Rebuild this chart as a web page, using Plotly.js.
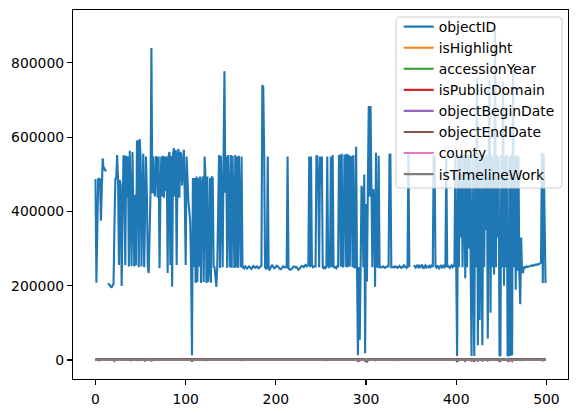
<!DOCTYPE html>
<html><head><meta charset="utf-8">
<script src="https://cdn.plot.ly/plotly-3.0.1.min.js"></script>
<style>html,body{margin:0;padding:0;background:#fff}#chart{width:578px;height:413px}</style>
</head><body><div id="chart"></div>
<script>
const seriesNames = ['objectID','isHighlight','accessionYear','isPublicDomain','objectBeginDate','objectEndDate','county','isTimelineWork'];
const seriesColors = ['#1f77b4','#ff7f0e','#2ca02c','#d62728','#9467bd','#8c564b','#e377c2','#7f7f7f'];
const xTickValues = [0,100,200,300,400,500];
const yTickValues = [0,200000,400000,600000,800000];
const yTickLabels = ['0','200000','400000','600000','800000'];

const objectID = [
487000,208000,350000,487000,488000,486000,375000,510000,543000,512000,
515000,510000,508000,null,207000,203000,199000,197000,196000,199000,
205000,360000,487000,488000,552000,486000,256000,485000,470000,199000,
440000,550000,548000,255000,550000,437000,548000,252000,563000,440000,
253000,560000,440000,252000,445000,255000,590000,588000,250000,595000,
548000,252000,440000,555000,250000,445000,548000,440000,252000,234000,
340000,450000,840000,449000,548000,453000,440000,548000,545000,437000,
548000,247000,450000,548000,440000,550000,437000,548000,455000,548000,
234000,548000,560000,256000,550000,197000,555000,570000,440000,565000,
256000,548000,568000,437000,560000,555000,470000,548000,566000,440000,
256000,548000,467000,430000,400000,373000,251000,13000,490000,250000,
490000,207000,494000,210000,490000,251000,494000,207000,470000,494000,
210000,548000,490000,207000,494000,210000,250000,490000,208000,494000,
490000,251000,250000,207000,197000,251000,440000,552000,248000,550000,
440000,250000,552000,777000,450000,548000,248000,552000,440000,250000,
552000,248000,550000,440000,248000,552000,250000,548000,248000,550000,
440000,250000,548000,248000,250000,247000,252000,250000,246000,249000,
252000,250000,248000,245000,250000,253000,251000,248000,250000,252000,
249000,247000,250000,252000,253000,740000,735000,557000,250000,246000,
248000,548000,245000,243000,246000,252000,256000,250000,247000,248000,
251000,254000,252000,250000,246000,244000,245000,249000,252000,250000,
249000,251000,250000,548000,248000,244000,243000,245000,246000,250000,
252000,251000,249000,250000,247000,243000,245000,250000,252000,253000,
251000,250000,254000,256000,252000,253000,255000,548000,250000,548000,
256000,250000,252000,253000,250000,548000,548000,476000,250000,548000,
472000,548000,250000,247000,252000,248000,250000,548000,255000,250000,
253000,548000,250000,552000,251000,249000,250000,247000,252000,250000,
552000,548000,252000,555000,250000,253000,552000,550000,250000,555000,
250000,552000,252000,545000,548000,250000,552000,248000,250000,574000,
250000,13000,250000,54000,250000,469000,450000,250000,499000,18000,
420000,211000,460000,684000,440000,684000,460000,250000,460000,420000,
197000,558000,250000,252000,550000,250000,251000,249000,250000,252000,
250000,248000,250000,251000,253000,250000,552000,555000,250000,251000,
250000,249000,252000,250000,251000,248000,250000,253000,250000,248000,
251000,250000,255000,252000,250000,248000,250000,555000,250000,null,
null,null,null,255000,251000,249000,252000,256000,250000,253000,
248000,251000,257000,250000,246000,252000,255000,249000,251000,250000,
253000,248000,252000,256000,250000,550000,548000,252000,249000,255000,
250000,247000,252000,254000,249000,251000,256000,250000,253000,552000,
250000,253000,251000,248000,252000,255000,250000,253000,251000,550000,
250000,11000,552000,250000,548000,330000,552000,250000,430000,552000,
220000,548000,250000,552000,300000,548000,250000,11000,552000,150000,
11000,548000,250000,760000,40000,552000,108000,548000,250000,40000,
552000,250000,548000,350000,552000,58000,548000,755000,127000,552000,
250000,548000,230000,897000,250000,552000,330000,548000,13000,11000,
552000,250000,750000,200000,548000,250000,552000,11000,13000,548000,
11000,552000,13000,782000,250000,548000,189000,552000,240000,548000,
230000,150000,330000,240000,234000,251000,248000,250000,252000,250000,
251000,253000,252000,254000,253000,255000,254000,256000,257000,256000,
258000,257000,259000,260000,262000,558000,207000,555000,330000,207000
];

const isHighlightFlags = `
00000000000000000000000000000001000000000000000000
00000000000000000000000000000000000000000000000000
00000000000000000000100000000000000000000000000000
00000000000000000000000000000000000000000000000000
00000000000000000000000000000000000000000000000000
00000000000000000000000000000000000000000000000000
00000000000000000000000000000000000000000000010000
00000000000000000000000000000000000000000000000000
00000000000000000000000000000000000000000000000000
00000000000000000000000000000000000000000000000000`;

const isPublicDomainFlags = `
11011101110111111011011101101110111101111011011110
11101111011011101111101101111011101101110111011011
11111111111111111111111111111111111111111111111111
11111111111111111111111111111111111111111111111111
11111111111111111111111111111111111111111111111111
11111111111111111111111101111111111111111111111101
11111111111111111111111111111111111111111111111111
11111111111111111111111111111111111111111111111111
11011110111011010111101101110111011011101101111111
11111111111111111111111111111111111111111111111111`;

const isTimelineWorkFlags = `
10010001001000100001000100100010001000010001001000
01000100010000100010001000010001000100001000100010
00000000000000000000000000000000000000000000000000
00000000000000000000000000000000000000000000000000
00000000000000000000000000000000000000000000000000
00000000000000000000000000000000000000000000000000
00001000000000000000000000000000000000000100000000
00000000000000000000000000000000000000000000000000
01000100100010001000010000100010000010001000100001
00000000000000000000000000000000000000000000000000`;

const accessionYearList = `
1979 1963 1917 1941 1882 1929 1926 1906 1913 1970 1956 1936 1949 1917 1917 1917 1917 1917 1917 1917
1984 1896 1974 1981 1929 1910 1928 1929 1926 1917 1917 1946 1994 1914 1968 1926 1921 1997 1929 1905
1989 1929 1917 1971 1927 1929 1918 1949 1937 1929 1936 1967 1917 1917 1929 1913 1926 1945 1917 1917
1929 1997 1906 2002 1929 1917 1954 1929 1917 1955 1929 1917 1917 1901 1929 1929 1917 1961 1929 1916
1917 1929 1926 1917 1931 1917 1929 1931 1917 1955 1911 1929 1929 1947 1929 1917 1924 1929 1929 1917
1924 1929 1932 1917 1923 1923 1917 1990 1936 1917 1965 1917 1936 1917 1964 1917 1917 1917 1933 1936
1917 1917 1917 1936 1917 1917 1934 1917 1917 1936 1917 1917 1917 1917 1917 1917 1933 1929 1917 1917
1929 1917 1929 1967 1929 1929 1917 1917 1929 1917 1917 1929 1917 1917 1929 1917 1929 1917 1929 1917
1929 1917 1917 1917 1917 1917 1917 1917 1917 1917 1917 1917 1917 1917 1917 1917 1917 1917 1917 1917
1917 1917 1917 1917 1917 1990 1970 1929 1917 1917 1917 1929 1917 1917 1917 1917 1917 1917 1917 1917
1917 1917 1917 1917 1917 1917 1917 1917 1917 1917 1917 1917 1917 1929 1917 1917 1917 1917 1917 1917
1917 1917 1917 1917 1917 1917 1917 1917 1917 1917 1917 1917 1917 1917 1917 1917 1917 1929 1917 1929
1917 1917 1917 1917 1917 1929 1929 1936 1917 1929 1936 1929 1917 1917 1917 1917 1917 1929 1917 1917
1917 1929 1917 1929 1917 1917 1917 1917 1917 1917 1929 1929 1917 1929 1917 1917 1929 1929 1917 1929
1917 1929 1917 1929 1929 1917 1929 1917 1917 1929 1917 1986 1917 1975 1917 1936 1936 1917 1936 1991
1936 1906 1936 1959 1936 1959 1936 1917 1936 1936 1913 1929 1917 1917 1929 1917 1917 1917 1917 1917
1917 1917 1917 1917 1917 1917 1929 1929 1917 1917 1917 1917 1917 1917 1917 1917 1917 1917 1917 1917
1917 1917 1917 1917 1917 1917 1917 1929 1917 1917 1917 1917 1917 1917 1917 1917 1917 1917 1917 1917
1917 1917 1917 1917 1917 1917 1917 1917 1917 1917 1917 1917 1917 1917 1917 1929 1929 1917 1917 1917
1917 1917 1917 1917 1917 1917 1917 1917 1917 1929 1917 1917 1917 1917 1917 1917 1917 1917 1917 1929
1917 1979 1929 1917 1929 1942 1929 1917 1936 1929 1912 1929 1917 1929 1933 1929 1917 1983 1929 1927
1987 1929 1917 1963 1984 1929 1977 1929 1917 1982 1929 1917 1929 1936 1929 1988 1929 1964 1977 1929
1917 1929 1925 2000 1917 1929 1933 1929 1992 1988 1929 1917 1962 1913 1929 1917 1929 1985 1993 1929
1980 1929 1991 1966 1917 1929 1910 1929 1917 1929 1914 1908 1933 1917 1917 1917 1917 1917 1917 1917
1917 1917 1917 1917 1917 1917 1917 1917 1917 1917 1917 1917 1917 1917 1917 1929 1913 1929 1933 1913`;

const objectBeginDateList = `
1868 1800 1750 1825 -1000 1860 1600 1780 1700 1890 1900 1750 1880 1775 1775 1775 1780 1790 1775 1780
1850 -2000 1910 1920 1860 1700 1825 1860 1750 1790 1780 1570 1940 1725 1900 1650 1690 1880 1865 -600
1920 1860 1775 1900 1650 1860 1720 1800 1530 1860 1600 1890 1780 1780 1860 -1500 1700 1575 1780 1790
1860 1970 -3000 1960 1860 1785 1500 1860 1790 1600 1860 1780 1780 1400 1860 1860 1790 1880 1860 1690
1780 1860 1700 1790 1675 1780 1860 1650 1790 1700 1580 1860 1860 1550 1860 1790 1680 1860 1860 1785
1700 1860 1625 1790 1690 1690 1780 -4000 1600 1790 1900 1785 1600 1790 1850 1785 1790 1790 1700 1610
1790 1780 1785 1600 1790 1780 1650 1790 1785 1600 1780 1790 1785 1780 1790 1785 1700 1860 1780 1790
1860 1785 1860 1870 1860 1860 1790 1780 1860 1785 1790 1860 1780 1785 1860 1790 1860 1780 1860 1785
1860 1790 1785 1780 1790 1785 1780 1790 1785 1780 1790 1785 1780 1790 1785 1780 1790 1785 1780 1790
1785 1780 1790 1785 1780 1900 1880 1860 1790 1785 1780 1860 1785 1790 1780 1785 1790 1780 1785 1790
1780 1785 1790 1780 1785 1790 1780 1785 1790 1780 1785 1790 1780 1860 1785 1790 1780 1785 1790 1780
1785 1790 1780 1785 1790 1780 1785 1790 1780 1785 1790 1780 1785 1790 1780 1785 1790 1860 1780 1860
1785 1790 1780 1785 1790 1860 1860 1600 1785 1860 1600 1860 1790 1780 1785 1790 1780 1860 1785 1790
1780 1860 1785 1860 1790 1780 1785 1790 1780 1785 1860 1860 1790 1860 1780 1785 1860 1860 1790 1860
1780 1860 1785 1860 1860 1790 1860 1780 1785 1860 1790 -2500 1785 -1200 1790 1600 1600 1785 1600 -3500
1600 -6000 1600 1880 1600 1880 1600 1790 1600 1600 -800 1860 1785 1790 1860 1780 1785 1790 1780 1785
1780 1785 1790 1780 1785 1790 1860 1860 1785 1790 1780 1785 1790 1780 1785 1790 1780 1785 1790 1780
1785 1790 1780 1785 1790 1780 1785 1860 1790 1780 1785 1790 1780 1785 1790 1780 1785 1790 1780 1785
1790 1780 1785 1790 1780 1785 1790 1780 1785 1790 1780 1785 1790 1780 1785 1860 1860 1790 1780 1785
1790 1780 1785 1790 1780 1785 1790 1780 1785 1860 1790 1780 1785 1790 1780 1785 1790 1780 1785 1860
1790 -5000 1860 1785 1860 1580 1860 1790 1600 1860 -2000 1860 1785 1860 1650 1860 1780 -3000 1860 1700
-4500 1860 1790 1900 -1500 1860 1870 1860 1785 -2600 1860 1790 1860 1600 1860 -1000 1860 1900 1880 1860
1785 1860 1690 1980 1790 1860 1650 1860 -3000 -2200 1860 1780 1910 1725 1860 1785 1860 -1800 -2800 1860
-400 1860 -2000 1920 1785 1860 1700 1860 1790 1860 1720 1640 1650 1790 1780 1785 1790 1780 1785 1790
1780 1785 1790 1780 1785 1790 1780 1785 1790 1780 1785 1790 1780 1785 1790 1860 -1000 1860 1650 -1000`;

const objectEndDateList = `
1868 1810 1800 1825 -900 1870 1650 1800 1750 1890 1900 1800 1880 1800 1800 1800 1800 1800 1800 1800
1850 -1800 1910 1920 1870 1750 1850 1870 1800 1800 1800 1600 1940 1775 1900 1700 1700 1880 1870 -500
1920 1870 1800 1900 1700 1870 1750 1800 1570 1870 1650 1890 1800 1800 1870 -1400 1750 1600 1800 1800
1870 1970 -2900 1960 1870 1800 1600 1870 1800 1650 1870 1800 1800 1500 1870 1870 1800 1880 1870 1700
1800 1870 1750 1800 1700 1800 1870 1700 1800 1750 1600 1870 1870 1600 1870 1800 1700 1870 1870 1800
1750 1870 1650 1800 1700 1700 1800 -3900 1650 1800 1900 1800 1650 1800 1860 1800 1800 1800 1750 1650
1800 1800 1800 1650 1800 1800 1700 1800 1800 1650 1800 1800 1800 1800 1800 1800 1750 1870 1800 1800
1870 1800 1870 1870 1870 1870 1800 1800 1870 1800 1800 1870 1800 1800 1870 1800 1870 1800 1870 1800
1870 1800 1800 1800 1800 1800 1800 1800 1800 1800 1800 1800 1800 1800 1800 1800 1800 1800 1800 1800
1800 1800 1800 1800 1800 1910 1890 1870 1800 1800 1800 1870 1800 1800 1800 1800 1800 1800 1800 1800
1800 1800 1800 1800 1800 1800 1800 1800 1800 1800 1800 1800 1800 1870 1800 1800 1800 1800 1800 1800
1800 1800 1800 1800 1800 1800 1800 1800 1800 1800 1800 1800 1800 1800 1800 1800 1800 1870 1800 1870
1800 1800 1800 1800 1800 1870 1870 1650 1800 1870 1650 1870 1800 1800 1800 1800 1800 1870 1800 1800
1800 1870 1800 1870 1800 1800 1800 1800 1800 1800 1870 1870 1800 1870 1800 1800 1870 1870 1800 1870
1800 1870 1800 1870 1870 1800 1870 1800 1800 1870 1800 -2400 1800 -1100 1800 1650 1650 1800 1650 -3400
1650 -5800 1650 1890 1650 1890 1650 1800 1650 1650 -700 1870 1800 1800 1870 1800 1800 1800 1800 1800
1800 1800 1800 1800 1800 1800 1870 1870 1800 1800 1800 1800 1800 1800 1800 1800 1800 1800 1800 1800
1800 1800 1800 1800 1800 1800 1800 1870 1800 1800 1800 1800 1800 1800 1800 1800 1800 1800 1800 1800
1800 1800 1800 1800 1800 1800 1800 1800 1800 1800 1800 1800 1800 1800 1800 1870 1870 1800 1800 1800
1800 1800 1800 1800 1800 1800 1800 1800 1800 1870 1800 1800 1800 1800 1800 1800 1800 1800 1800 1870
1800 -4900 1870 1800 1870 1600 1870 1800 1650 1870 -1900 1870 1800 1870 1700 1870 1800 -2900 1870 1750
-4400 1870 1800 1900 -1400 1870 1880 1870 1800 -2500 1870 1800 1870 1650 1870 -900 1870 1910 1890 1870
1800 1870 1700 1990 1800 1870 1700 1870 -2900 -2100 1870 1800 1920 1775 1870 1800 1870 -1700 -2700 1870
-300 1870 -1900 1930 1800 1870 1750 1870 1800 1870 1750 1660 1700 1800 1800 1800 1800 1800 1800 1800
1800 1800 1800 1800 1800 1800 1800 1800 1800 1800 1800 1800 1800 1800 1800 1870 -900 1870 1700 -900`;

const countyRows   = [45,46,47,48,49,120,121,122,123,124,160,161,162,163,255,256,257,258,330,331,332,333,470,471,472,473];
const countyValues = [-400,-600,-500,-400,-500,-500,-400,-600,-500,-400,-600,-500,-400,-500,-500,-400,-600,-500,-400,-500,-600,-400,-500,-600,-400,-500];

const parseNums = s => s.trim().split(/\s+/).map(Number);
const parseBits = s => s.replace(/\s+/g, '').split('').map(Number);

const county = objectID.map(() => null);
countyRows.forEach((r, k) => { county[r] = countyValues[k]; });

const seriesValues = [
  objectID,
  parseBits(isHighlightFlags),
  parseNums(accessionYearList),
  parseBits(isPublicDomainFlags),
  parseNums(objectBeginDateList),
  parseNums(objectEndDateList),
  county,
  parseBits(isTimelineWorkFlags)
];
const rowIndex = objectID.map((_, i) => i);

let lo = Infinity, hi = -Infinity;
seriesValues.forEach(arr => arr.forEach(v => { if (v !== null && !isNaN(v)) { lo = Math.min(lo, v); hi = Math.max(hi, v); } }));
const yPad = (hi - lo) * 0.05;
const xPad = (rowIndex.length - 1) * 0.05;

const font = {family: 'DejaVu Sans, sans-serif', size: 13.9, color: '#000'};

const traces = seriesNames.map((name, i) => ({
  type: 'scatter', mode: 'lines', name: name,
  x: rowIndex, y: seriesValues[i],
  line: {color: seriesColors[i], width: 2.1},
  legendgroup: name,
  connectgaps: false, hoverinfo: 'skip'
}));

const axisCommon = {
  showline: true, mirror: true, linecolor: '#000', linewidth: 1.1,
  ticks: 'outside', ticklen: 5, tickwidth: 1.1, tickcolor: '#000',
  showgrid: false, zeroline: false, tickfont: font
};

// legend frame (rounded, semi-transparent like matplotlib's legend patch), in paper fractions
const bx0 = 0.6525, bx1 = 0.9879, by0 = 0.5176, by1 = 0.9810, rx = 0.008, ry = 0.011;
const framePath = `M${bx0+rx},${by0} L${bx1-rx},${by0} Q${bx1},${by0} ${bx1},${by0+ry} L${bx1},${by1-ry} Q${bx1},${by1} ${bx1-rx},${by1} L${bx0+rx},${by1} Q${bx0},${by1} ${bx0},${by1-ry} L${bx0},${by0+ry} Q${bx0},${by0} ${bx0+rx},${by0} Z`;

const layout = {
  width: 578, height: 413,
  margin: {l: 73, r: 10, t: 10, b: 34},
  paper_bgcolor: '#fff', plot_bgcolor: '#fff',
  font: font,
  showlegend: true,
  legend: {
    x: 0.658, xanchor: 'left', y: 0.997, yanchor: 'top',
    bgcolor: 'rgba(0,0,0,0)', borderwidth: 0,
    font: font, traceorder: 'normal', tracegroupgap: 0
  },
  shapes: [{
    type: 'path', xref: 'paper', yref: 'paper', layer: 'above',
    path: framePath, fillcolor: 'rgba(255,255,255,0.8)',
    line: {color: '#cccccc', width: 1}
  }],
  xaxis: Object.assign({}, axisCommon, {
    range: [-xPad, rowIndex.length - 1 + xPad],
    tickmode: 'array', tickvals: xTickValues, ticktext: xTickValues.map(String),
    ticklabelstandoff: 2
  }),
  yaxis: Object.assign({}, axisCommon, {
    range: [lo - yPad, hi + yPad],
    tickmode: 'array', tickvals: yTickValues, ticktext: yTickLabels
  })
};

Plotly.newPlot('chart', traces, layout, {staticPlot: true, displayModeBar: false});
</script></body></html>
